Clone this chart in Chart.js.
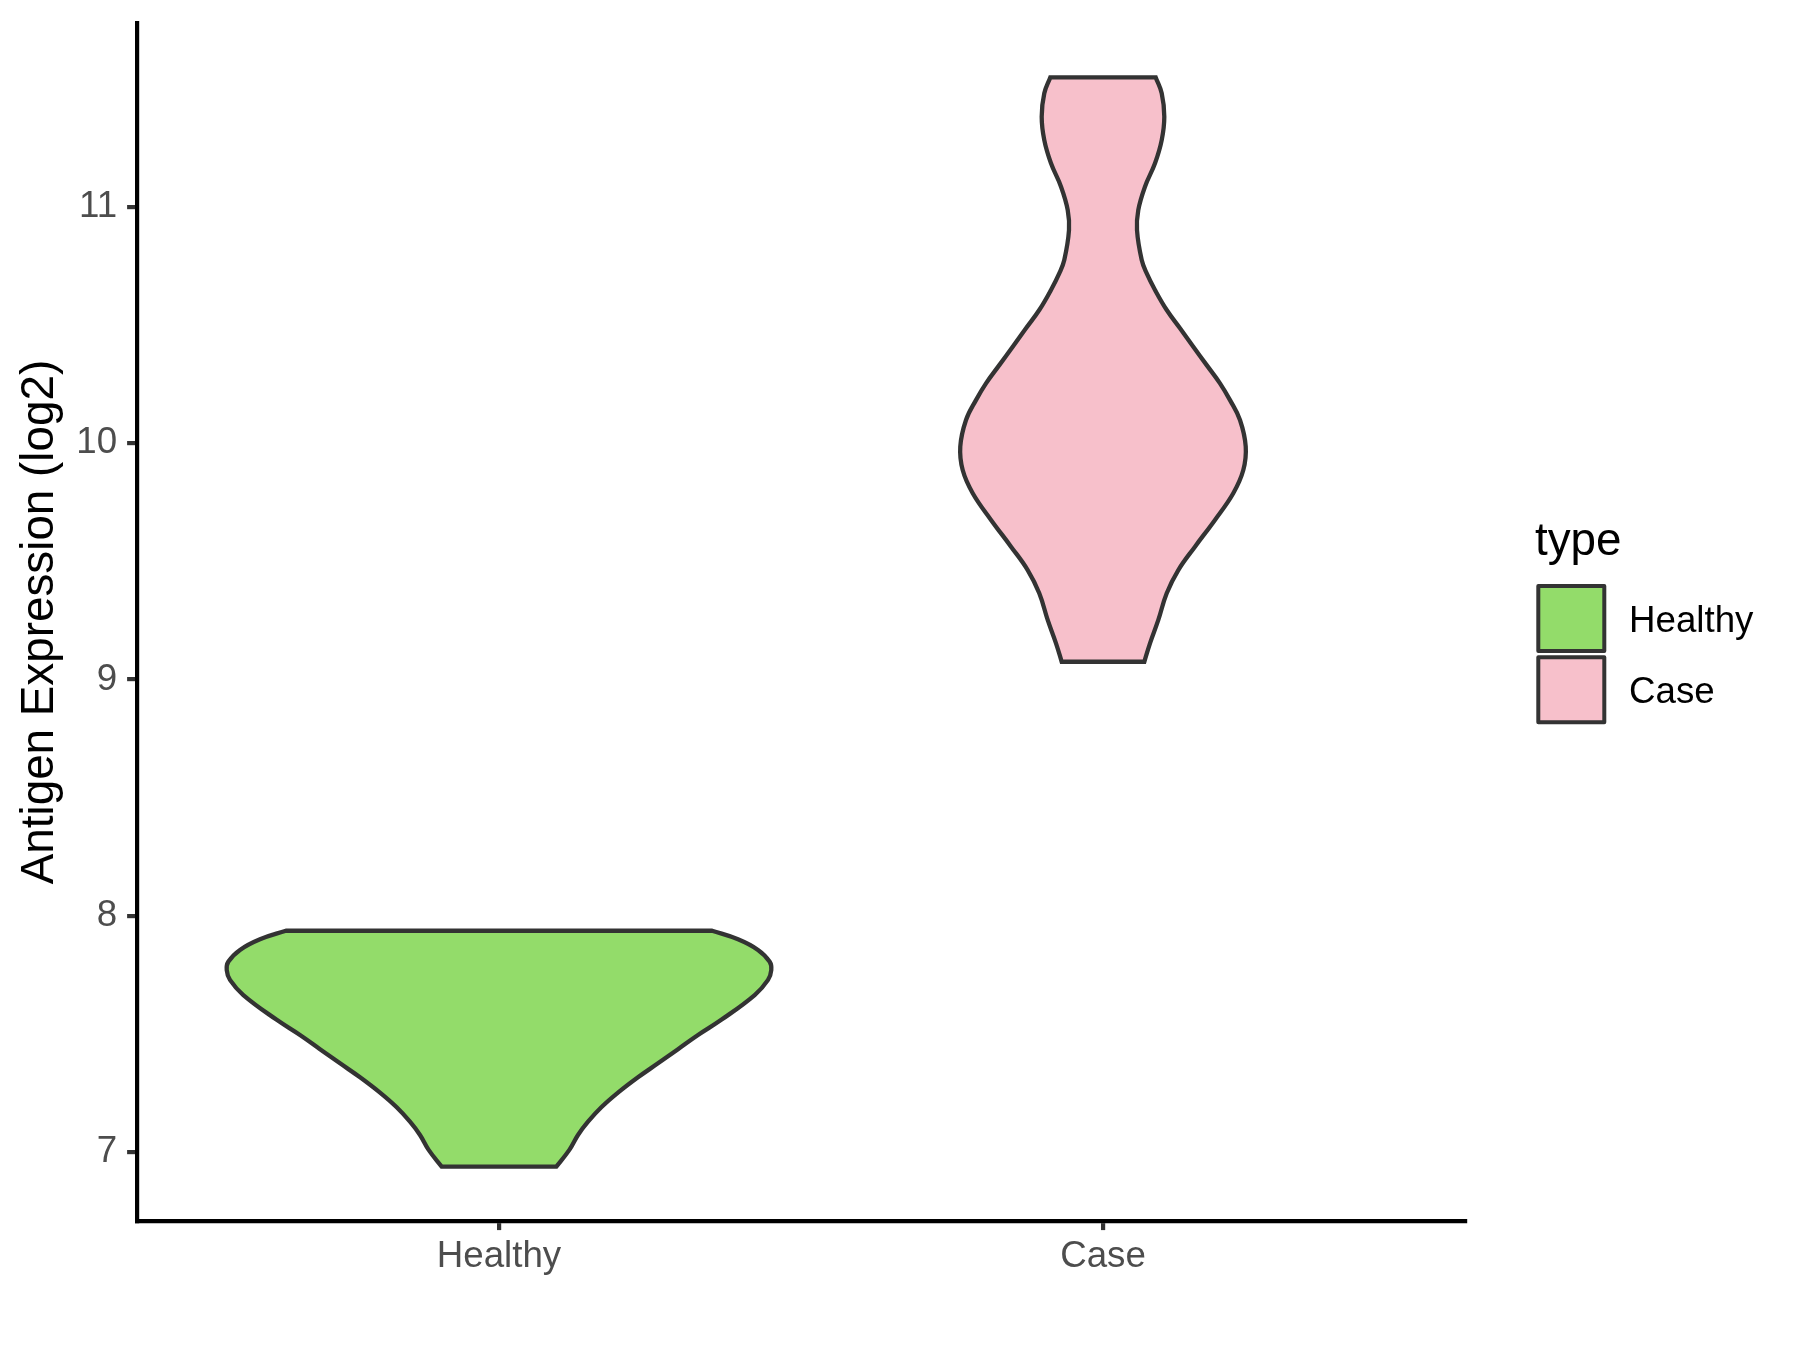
<!DOCTYPE html>
<html>
<head>
<meta charset="utf-8">
<script src="https://cdn.jsdelivr.net/npm/chart.js@4.4.1/dist/chart.umd.min.js"></script>
<style>
html, body { margin: 0; padding: 0; background: #ffffff; }
#wrap { width: 1800px; height: 1350px; position: relative; background: #ffffff; }
</style>
</head>
<body>
<div id="wrap"><canvas id="c" width="1800" height="1350"></canvas></div>
<script>
// ---- data ----
const categories = ['Healthy', 'Case'];
const fillColors = ['#93DC6A', '#F7C0CB'];
const yTicks = [7, 8, 9, 10, 11];
const yTitle = 'Antigen Expression (log2)';
const legendTitle = 'type';

// violin outlines: y value and half-width (in category units), bottom to top
const healthyY = [6.939, 7.010, 7.073, 7.129, 7.190, 7.252, 7.317, 7.376, 7.436, 7.496, 7.560, 7.665, 7.729, 7.771, 7.806, 7.856, 7.901, 7.937];
const healthyHalfWidth = [0.0949, 0.1165, 0.1308, 0.1474, 0.1694, 0.1970, 0.2301, 0.2632, 0.2964, 0.3295, 0.3680, 0.4233, 0.4454, 0.4508, 0.4482, 0.4288, 0.3957, 0.3527];

const caseY = [9.075, 9.153, 9.252, 9.365, 9.463, 9.562, 9.675, 9.788, 9.886, 9.985, 10.098, 10.182, 10.253, 10.330, 10.408, 10.486, 10.563, 10.648, 10.718, 10.775, 10.901, 10.986, 11.085, 11.184, 11.282, 11.381, 11.480, 11.547];
const caseHalfWidth = [0.0684, 0.0778, 0.0916, 0.1055, 0.1247, 0.1523, 0.1854, 0.2157, 0.2323, 0.2363, 0.2268, 0.2103, 0.1937, 0.1717, 0.1495, 0.1275, 0.1055, 0.0861, 0.0724, 0.0641, 0.0563, 0.0584, 0.0695, 0.0861, 0.0972, 0.1015, 0.0972, 0.0873];

const FONT = '"Liberation Sans", Arial, Helvetica, sans-serif';

// closed outline built from the arrays (corners doubled so flat ends stay straight)
function outline(center, ys, hws) {
  const n = ys.length;
  const R = i => ({ x: center + hws[i], y: ys[i] });
  const L = i => ({ x: center - hws[i], y: ys[i] });
  const pts = [{ x: center, y: ys[0] }, R(0), R(0)];
  for (let i = 1; i < n - 1; i++) pts.push(R(i));
  pts.push(R(n - 1), R(n - 1), L(n - 1), L(n - 1));
  for (let i = n - 2; i >= 1; i--) pts.push(L(i));
  pts.push(L(0), L(0), { x: center, y: ys[0] });
  return pts;
}

const allY = healthyY.concat(caseY);
const dMin = Math.min(...allY), dMax = Math.max(...allY);
const yMin = dMin - 0.05 * (dMax - dMin);
const yMax = dMax + 0.05 * (dMax - dMin);

function violinDataset(i, ys, hws) {
  return {
    label: categories[i],
    data: outline(i + 1, ys, hws),
    showLine: true,
    fill: 'shape',
    backgroundColor: fillColors[i],
    borderColor: '#333333',
    borderWidth: 4.3,
    borderJoinStyle: 'miter',
    pointRadius: 0,
    pointHoverRadius: 0,
    tension: 0.4
  };
}

const legendPlugin = {
  id: 'typeLegend',
  afterDraw(chart) {
    const ctx = chart.ctx;
    ctx.save();
    ctx.textAlign = 'left';
    ctx.textBaseline = 'alphabetic';
    ctx.fillStyle = '#000000';
    ctx.font = '45.8px ' + FONT;
    ctx.fillText(legendTitle, 1535, 555);
    categories.forEach((c, i) => {
      const y = 586 + i * 71.3;
      ctx.fillStyle = fillColors[i];
      ctx.fillRect(1538.3, y, 66, 65);
      ctx.lineWidth = 4;
      ctx.lineJoin = 'round';
      ctx.strokeStyle = '#333333';
      ctx.strokeRect(1538.3, y, 66, 65);
      ctx.fillStyle = '#000000';
      ctx.font = '36.7px ' + FONT;
      ctx.fillText(c, 1629, y + 32.5 + 13.1);
    });
    ctx.restore();
  }
};

const tickFont = { family: FONT, size: 36.7, lineHeight: 1.2 };
const gridOpts = { display: true, drawOnChartArea: false, drawTicks: true, tickLength: 9.5, tickWidth: 4.2, tickColor: '#333333', lineWidth: 4.2, color: '#333333' };

new Chart(document.getElementById('c'), {
  type: 'scatter',
  data: {
    datasets: [
      violinDataset(0, healthyY, healthyHalfWidth),
      violinDataset(1, caseY, caseHalfWidth)
    ]
  },
  options: {
    responsive: false,
    animation: false,
    devicePixelRatio: 1,
    events: [],
    layout: { padding: { left: 0, top: 23, right: 334.6, bottom: 0 } },
    plugins: { legend: { display: false }, tooltip: { enabled: false } },
    scales: {
      x: {
        type: 'linear',
        min: 0.4,
        max: 2.6,
        afterBuildTicks: s => { s.ticks = categories.map((c, i) => ({ value: i + 1 })); },
        afterFit: s => { s.height = 128.9; s.paddingLeft = 0; s.paddingRight = 0; },
        ticks: {
          callback: v => categories[v - 1],
          autoSkip: false, maxRotation: 0, minRotation: 0,
          padding: 4.5, color: '#4D4D4D', font: tickFont
        },
        grid: Object.assign({}, gridOpts, { tickLength: 9 }),
        border: { display: true, color: '#000000', width: 4.2 }
      },
      y: {
        type: 'linear',
        min: yMin,
        max: yMax,
        afterBuildTicks: s => { s.ticks = yTicks.map(v => ({ value: v })); },
        afterFit: s => { s.width = 136.6; s.paddingTop = 0; s.paddingBottom = 0; },
        ticks: {
          callback: v => String(v),
          autoSkip: false,
          padding: 10, color: '#4D4D4D', font: tickFont
        },
        grid: gridOpts,
        border: { display: true, color: '#000000', width: 4.2 },
        title: {
          display: true, text: yTitle, color: '#000000',
          font: { family: FONT, size: 45.8, lineHeight: 1.2 },
          padding: { top: 12.5, bottom: 0 }
        }
      }
    }
  },
  plugins: [legendPlugin]
});
</script>
</body>
</html>
